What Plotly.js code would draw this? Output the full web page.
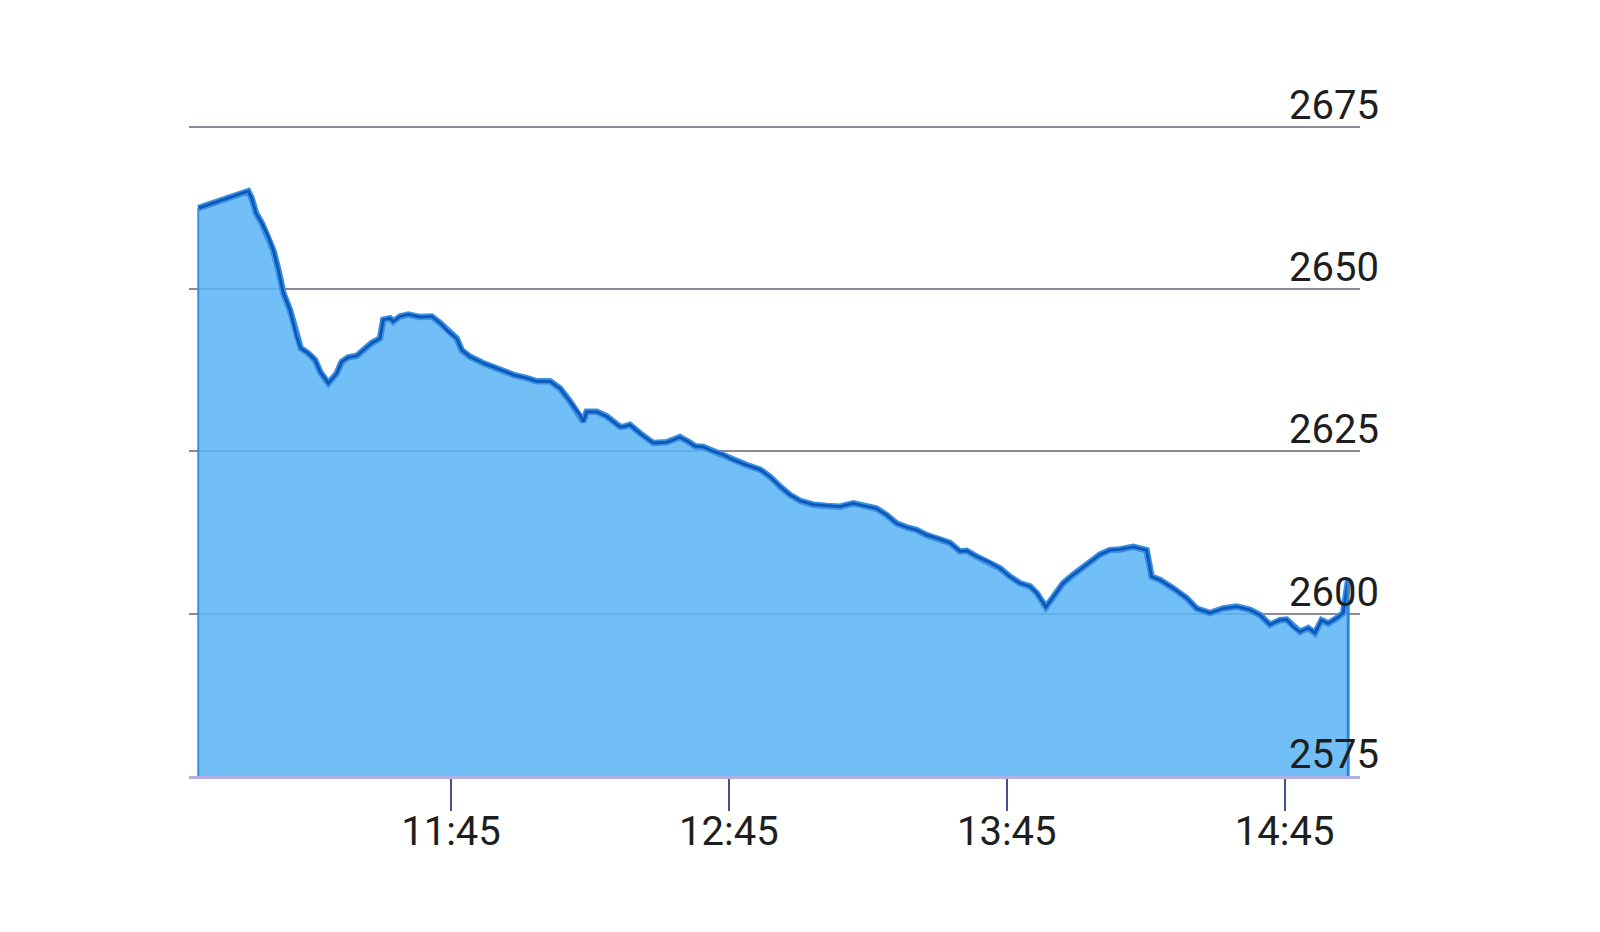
<!DOCTYPE html>
<html>
<head>
<meta charset="utf-8">
<script src="https://cdn.plot.ly/plotly-3.0.1.min.js"></script>
<style>
  html, body { margin: 0; padding: 0; background: #ffffff; }
  #chart { width: 1600px; height: 932px; }
</style>
</head>
<body>
<div id="chart"></div>
<script>
// ---- data ----
const day = "2024-01-01";
const times = [
  "10:50:26","11:01:14","11:01:58","11:02:54","11:04:08","11:05:34","11:06:38","11:07:43","11:08:48","11:10:14",
  "11:11:41","11:12:33","11:14:11","11:15:38","11:16:43","11:18:31","11:20:19","11:21:24","11:22:50","11:24:38",
  "11:26:04","11:27:53","11:29:40","11:30:23","11:31:50","11:32:32","11:33:59","11:35:47","11:38:19","11:40:50",
  "11:42:38","11:44:25","11:46:14","11:47:19","11:49:06","11:51:58","11:55:35","11:58:27","12:01:20","12:03:30",
  "12:06:22","12:08:32","12:10:41","12:12:51","12:13:34","12:14:18","12:16:28","12:18:37","12:20:02","12:21:29",
  "12:22:12","12:23:38","12:25:48","12:28:40","12:31:34","12:34:26","12:36:14","12:37:41","12:39:28","12:41:38",
  "12:43:47","12:45:57","12:48:50","12:51:43","12:53:52","12:56:02","12:58:11","13:00:21","13:03:13","13:06:07",
  "13:08:59","13:11:51","13:14:45","13:16:54","13:19:04","13:21:13","13:23:23","13:25:32","13:27:42","13:30:34",
  "13:32:44","13:34:53","13:36:20","13:38:29","13:41:22","13:43:31","13:45:41","13:47:50","13:50:00","13:51:27",
  "13:53:27","13:55:46","13:57:11","13:59:21","14:02:14","14:05:07","14:07:16","14:09:26","14:12:18","14:15:11",
  "14:16:16","14:18:04","14:20:56","14:23:50","14:25:59","14:28:52","14:31:44","14:34:37","14:37:30","14:39:40",
  "14:41:49","14:43:58","14:45:25","14:46:50","14:48:17","14:50:05","14:51:32","14:52:58","14:54:24","14:56:13",
  "14:57:38","14:58:43"
];
const values = [
  2662.5,2665.1,2664.0,2661.7,2660.2,2658.1,2656.0,2653.0,2649.4,2646.8,
  2642.7,2640.9,2640.1,2639.1,2637.3,2635.5,2637.0,2638.8,2639.5,2639.7,
  2640.6,2641.7,2642.4,2645.3,2645.5,2645.0,2645.8,2646.1,2645.7,2645.8,
  2644.8,2643.5,2642.4,2640.6,2639.6,2638.6,2637.6,2636.8,2636.3,2635.8,
  2635.8,2634.7,2632.7,2630.6,2629.6,2631.1,2631.1,2630.4,2629.6,2628.8,
  2628.8,2629.1,2627.8,2626.3,2626.4,2627.2,2626.5,2625.8,2625.7,2625.0,
  2624.5,2623.7,2622.9,2622.2,2621.1,2619.6,2618.3,2617.4,2616.8,2616.6,
  2616.5,2617.0,2616.5,2616.2,2615.2,2613.9,2613.3,2612.9,2612.1,2611.5,
  2610.9,2609.6,2609.7,2608.8,2607.9,2607.0,2605.7,2604.7,2604.2,2603.2,
  2601.0,2603.4,2604.7,2606.0,2607.5,2609.1,2609.8,2609.9,2610.3,2609.8,
  2605.7,2605.2,2603.9,2602.4,2600.8,2600.1,2600.8,2601.1,2600.6,2599.8,
  2598.3,2599.0,2599.1,2598.0,2597.2,2597.8,2597.0,2599.0,2598.5,2599.3,
  2600.1,2605.2
];
const xTickTimes = ["11:45","12:45","13:45","14:45"];
const yTickValues = [2575, 2600, 2625, 2650, 2675];
const xRangeTimes = ["10:48:26","15:01:16"];
const yRange = [2575, 2685];

// ---- build ----
const xs = times.map(t => day + " " + t);

const area = {
  type: "scatter",
  mode: "lines",
  x: xs,
  y: values,
  fill: "tozeroy",
  fillcolor: "rgba(89,180,246,0.85)",
  line: { color: "#3a8fe2", width: 6.5, shape: "linear" },
  hoverinfo: "skip"
};
const core = {
  type: "scatter",
  mode: "lines",
  x: xs,
  y: values,
  line: { color: "#0b57ba", width: 2.8, shape: "linear" },
  hoverinfo: "skip"
};
// darker edges at both ends of the filled area
const edgeL = {
  type: "scatter", mode: "lines",
  x: [xs[0], xs[0]], y: [yRange[0], values[0]],
  line: { color: "#3d8ee0", width: 2 }, hoverinfo: "skip"
};
const edgeR = {
  type: "scatter", mode: "lines",
  x: [xs[xs.length - 1], xs[xs.length - 1]], y: [yRange[0], values[values.length - 1]],
  line: { color: "#2f84dc", width: 3 }, hoverinfo: "skip"
};

const layout = {
  width: 1600,
  height: 932,
  paper_bgcolor: "#ffffff",
  plot_bgcolor: "#ffffff",
  showlegend: false,
  margin: { l: 189, r: 240, t: 62, b: 156, pad: 0 },
  font: { family: "Roboto, 'Noto Sans', sans-serif", color: "#1e1e1e", size: 40 },
  xaxis: {
    type: "date",
    range: xRangeTimes.map(t => day + " " + t),
    tickmode: "array",
    tickvals: xTickTimes.map(t => day + " " + t),
    ticktext: xTickTimes,
    ticks: "outside",
    ticklen: 32,
    tickwidth: 2,
    tickcolor: "#47508f",
    ticklabelstandoff: -14,
    showgrid: false,
    zeroline: false,
    showline: true,
    linecolor: "#b4aee0",
    linewidth: 3,
    tickfont: { family: "Roboto, sans-serif", size: 40, color: "#1e1e1e" },
    fixedrange: true
  },
  yaxis: {
    range: yRange,
    side: "right",
    tickmode: "array",
    tickvals: yTickValues,
    ticktext: yTickValues.map(String),
    ticklabelposition: "inside top",
    ticklabeloverflow: "allow",
    ticklabelstandoff: -22,
    ticklabelshift: 6,
    ticks: "",
    showgrid: true,
    gridcolor: "#8c8a98",
    gridwidth: 2,
    zeroline: false,
    showline: false,
    tickfont: { family: "Roboto, sans-serif", size: 40, color: "#1e1e1e" },
    fixedrange: true
  }
};

Plotly.newPlot("chart", [area, core, edgeL, edgeR], layout, { displayModeBar: false, staticPlot: true });
</script>
</body>
</html>
